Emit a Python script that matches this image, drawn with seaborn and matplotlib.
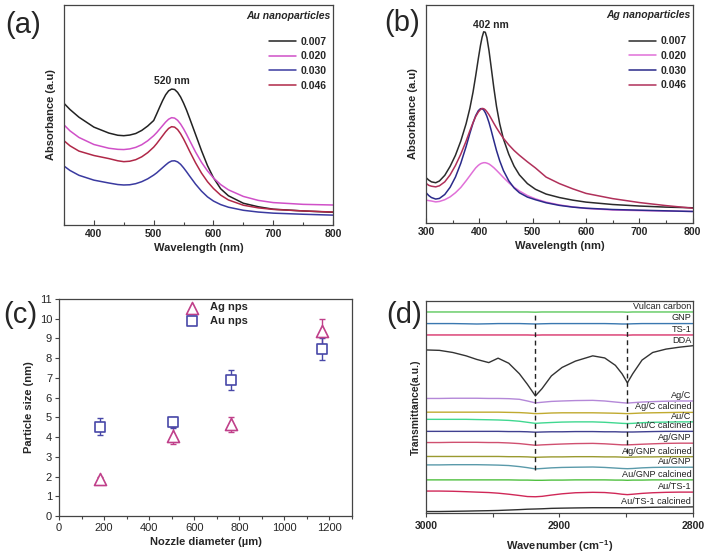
import seaborn as sns
import matplotlib.pyplot as plt
from matplotlib.ticker import MultipleLocator

sns.set_style('ticks')
plt.rcParams['font.family'] = ['Liberation Sans', 'DejaVu Sans']
plt.rcParams['mathtext.default'] = 'regular'

# ---------------- (a) Au nanoparticles, UV-vis ----------------
wl_au = [350, 360, 375, 400, 425, 440, 450, 460, 470, 480, 490, 500, 505, 510, 515, 520, 525,
         530, 535, 540, 545, 550, 555, 560, 570, 580, 590, 600, 612, 625, 650, 675, 700, 750, 800]
au_007 = [55.3, 52.5, 49.0, 44.5, 41.8, 40.8, 40.6, 40.9, 41.6, 43.0, 45.0, 47.5, 50.5, 53.6,
          56.6, 59.2, 61.0, 61.8, 61.6, 60.3, 58.2, 55.4, 52.2, 48.6, 41.2, 33.8, 27.0, 21.5,
          16.5, 13.3, 9.9, 8.3, 7.2, 6.4, 5.8]
au_020 = [45.5, 42.8, 39.8, 36.6, 34.9, 34.4, 34.3, 34.6, 35.3, 36.5, 38.3, 40.6, 42.0, 43.6,
          45.2, 46.8, 48.1, 48.8, 48.6, 47.6, 45.9, 43.7, 41.2, 38.5, 33.2, 28.5, 24.6, 21.4,
          18.4, 16.0, 13.0, 11.2, 10.2, 9.4, 9.1]
au_030 = [26.8, 24.8, 22.6, 20.4, 19.1, 18.4, 18.2, 18.3, 18.8, 19.7, 21.0, 22.7, 23.7, 24.9,
          26.1, 27.3, 28.4, 29.1, 29.2, 28.7, 27.6, 26.0, 24.2, 22.3, 18.6, 15.4, 12.8, 10.9,
          9.3, 8.1, 6.7, 5.9, 5.4, 4.9, 4.5]
au_046 = [38.3, 36.0, 33.6, 31.6, 30.2, 29.2, 28.8, 29.0, 29.7, 31.0, 32.9, 35.4, 37.0, 38.8,
          40.6, 42.4, 43.9, 44.7, 44.5, 43.4, 41.5, 39.1, 36.4, 33.6, 28.3, 23.6, 19.7, 16.6,
          13.6, 11.4, 9.0, 7.8, 7.1, 6.4, 5.9]

# ---------------- (b) Ag nanoparticles, UV-vis ----------------
wl_ag = [300, 305, 310, 318, 325, 335, 345, 355, 365, 375, 382, 388, 393, 398, 402, 405, 408,
         411, 414, 418, 422, 427, 432, 438, 445, 455, 465, 475, 490, 505, 525, 550, 575, 600,
         650, 700, 750, 800]
ag_007 = [20.7, 19.6, 18.8, 18.4, 19.2, 21.8, 25.9, 31.0, 37.5, 45.5, 52.5, 60.0, 67.5, 75.5,
          81.5, 85.2, 87.7, 87.5, 85.0, 79.0, 71.5, 62.0, 53.5, 45.5, 38.5, 31.5, 26.0, 22.0,
          18.0, 15.4, 13.2, 11.6, 10.4, 9.5, 8.4, 7.7, 7.2, 6.9]
ag_020 = [10.4, 10.2, 10.0, 9.6, 9.8, 10.6, 11.9, 13.8, 16.2, 19.3, 21.6, 23.6, 25.2, 26.4,
          27.1, 27.4, 27.6, 27.6, 27.4, 27.0, 26.3, 25.3, 24.1, 22.6, 20.8, 18.4, 16.3, 14.6,
          12.5, 11.0, 9.5, 8.2, 7.3, 6.6, 5.9, 5.6, 5.4, 5.2]
ag_030 = [13.8, 12.5, 11.6, 10.9, 11.2, 13.0, 16.3, 21.0, 27.3, 35.0, 41.0, 45.8, 49.2, 51.5,
          52.4, 52.4, 51.8, 50.6, 48.9, 46.0, 42.5, 37.8, 33.2, 28.5, 24.0, 19.3, 16.0, 13.8,
          11.8, 10.6, 9.2, 8.0, 7.2, 6.7, 6.1, 5.8, 5.5, 5.2]
ag_046 = [18.1, 17.2, 16.8, 16.5, 17.0, 18.8, 22.0, 26.3, 31.5, 37.5, 42.2, 46.0, 48.8, 50.9,
          52.0, 52.5, 52.4, 51.9, 51.0, 49.6, 47.9, 45.7, 43.6, 41.3, 38.8, 35.8, 33.2, 31.0,
          28.0, 25.2, 21.0, 18.0, 15.6, 13.5, 11.1, 9.3, 7.9, 6.7]

conc_labels = ['0.007', '0.020', '0.030', '0.046']

# ---------------- (c) particle size vs nozzle diameter ----------------
nozzle = [180, 505, 765, 1165]
ag_size = [1.86, 4.08, 4.64, 9.36]
ag_err = [0.1, 0.44, 0.4, 0.64]
au_size = [4.53, 4.76, 6.9, 8.46]
au_err = [0.43, 0.28, 0.52, 0.57]

# ---------------- (d) FTIR ----------------
wn = [3000, 2990, 2980, 2970, 2962, 2953, 2946, 2938, 2930, 2924, 2918, 2913, 2906,
      2898, 2888, 2875, 2866, 2858, 2853, 2849, 2845, 2838, 2830, 2820, 2810, 2800]
bands = [2918, 2849]
ftir_names = ['Vulcan carbon', 'GNP', 'TS-1', 'DDA', 'Ag/C', 'Ag/C calcined', 'Au/C',
              'Au/C calcined', 'Ag/GNP', 'Ag/GNP calcined', 'Au/GNP', 'Au/GNP calcined',
              'Au/TS-1', 'Au/TS-1 calcined']
ftir = [
    [94.8, 94.8, 94.8, 94.8, 94.8, 94.8, 94.8, 94.8, 94.8, 94.8, 94.7, 94.8, 94.8,
     94.8, 94.8, 94.8, 94.8, 94.8, 94.8, 94.7, 94.8, 94.8, 94.8, 94.8, 94.8, 94.8],
    [89.3, 89.3, 89.3, 89.2, 89.1, 89.2, 89.3, 89.3, 89.3, 89.2, 89.1, 89.2, 89.3,
     89.3, 89.3, 89.3, 89.3, 89.2, 89.1, 89.1, 89.2, 89.3, 89.3, 89.3, 89.3, 89.3],
    [83.9, 83.9, 83.9, 83.9, 83.9, 83.9, 83.9, 83.9, 83.9, 83.9, 83.8, 83.9, 83.9,
     83.9, 83.9, 83.9, 83.9, 83.9, 83.9, 83.8, 83.9, 83.9, 83.9, 83.9, 83.9, 83.9],
    [76.8, 76.6, 75.6, 74.0, 72.3, 70.8, 72.9, 70.5, 65.5, 60.5, 55.0, 58.5, 64.5,
     68.5, 71.5, 74.0, 73.0, 69.5, 65.5, 61.2, 65.5, 72.0, 75.6, 77.2, 78.1, 78.8],
    [53.8, 53.8, 53.9, 53.9, 53.9, 53.8, 53.8, 53.7, 53.4, 52.6, 51.7, 52.0, 52.4,
     52.6, 52.8, 52.9, 52.6, 52.1, 51.8, 51.6, 51.8, 52.1, 52.3, 52.5, 52.6, 52.6],
    [47.3, 47.3, 47.3, 47.3, 47.3, 47.3, 47.3, 47.2, 47.1, 46.9, 46.6, 46.7, 46.9,
     47.0, 47.0, 47.0, 46.9, 46.8, 46.7, 46.6, 46.7, 46.9, 47.0, 47.1, 47.2, 47.2],
    [43.9, 43.9, 43.9, 43.9, 43.8, 43.7, 43.6, 43.4, 43.0, 42.5, 42.0, 42.2, 42.4,
     42.6, 42.7, 42.7, 42.5, 42.2, 42.0, 41.9, 42.0, 42.3, 42.5, 42.6, 42.7, 42.7],
    [38.2, 38.2, 38.2, 38.2, 38.2, 38.2, 38.2, 38.1, 38.1, 38.0, 37.8, 37.9, 38.0,
     38.0, 38.1, 38.1, 38.0, 38.0, 37.9, 37.9, 37.9, 38.0, 38.1, 38.2, 38.2, 38.2],
    [32.9, 32.9, 33.0, 33.0, 33.0, 32.9, 32.9, 32.7, 32.4, 32.0, 31.6, 31.8, 32.0,
     32.2, 32.4, 32.5, 32.3, 32.0, 31.8, 31.8, 31.9, 32.1, 32.3, 32.5, 32.6, 32.6],
    [26.3, 26.3, 26.3, 26.3, 26.3, 26.3, 26.3, 26.2, 26.2, 26.1, 25.9, 26.0, 26.1,
     26.1, 26.2, 26.2, 26.1, 26.1, 26.0, 25.9, 26.0, 26.1, 26.1, 26.2, 26.2, 26.2],
    [22.3, 22.3, 22.4, 22.4, 22.4, 22.3, 22.2, 22.0, 21.5, 21.0, 20.4, 20.6, 20.9,
     21.1, 21.2, 21.3, 21.1, 20.8, 20.6, 20.5, 20.6, 20.9, 21.1, 21.2, 21.2, 21.2],
    [15.2, 15.2, 15.2, 15.2, 15.2, 15.2, 15.2, 15.2, 15.1, 15.1, 15.0, 15.0, 15.1,
     15.1, 15.2, 15.2, 15.2, 15.1, 15.1, 15.0, 15.1, 15.1, 15.2, 15.2, 15.2, 15.2],
    [9.9, 9.9, 9.8, 9.6, 9.4, 9.2, 8.9, 8.4, 7.8, 7.3, 7.2, 7.4, 8.0,
     8.6, 9.1, 9.3, 9.2, 8.8, 8.4, 8.2, 8.4, 8.8, 9.1, 9.3, 9.4, 9.4],
    [0.2, 0.2, 0.3, 0.4, 0.5, 0.6, 0.7, 0.9, 1.1, 1.3, 1.4, 1.5, 1.7,
     1.8, 1.9, 2.0, 2.0, 2.0, 2.0, 2.0, 2.0, 2.1, 2.2, 2.3, 2.3, 2.4],
]
ftir_colors = ['#5cc85c', '#3a78b0', '#d8336a', '#333333', '#b488d8', '#c0aa30', '#40d890',
               '#404090', '#d05070', '#9a9a30', '#5a9aaa', '#50c040', '#d02858', '#303030']

SPINE = '#444444'


def style_spines(ax):
    for s in ax.spines.values():
        s.set_visible(True)
        s.set_color(SPINE)
        s.set_linewidth(0.9)


def uv_panel(ax, x, series, colors, title, peak_label, peak_offset, xlim):
    for vals, c, lab in zip(series, colors, conc_labels):
        sns.lineplot(x=x, y=vals, color=c, lw=1.1, label=lab, ax=ax)
    ax.set_xlim(*xlim)
    ax.set_ylim(0, 100)
    ax.set_yticks([])
    ax.xaxis.set_major_locator(MultipleLocator(100))
    ax.xaxis.set_minor_locator(MultipleLocator(50))
    ax.tick_params(axis='x', which='major', direction='in', length=3.5, width=0.8,
                   labelsize=7.5, color=SPINE, pad=3)
    ax.tick_params(axis='x', which='minor', direction='in', length=2, width=0.8, color=SPINE)
    plt.setp(ax.get_xticklabels(), fontweight='bold')
    ax.set_xlabel('Wavelength (nm)', fontsize=8, fontweight='bold', labelpad=3)
    ax.set_ylabel('Absorbance (a.u)', fontsize=8, fontweight='bold', labelpad=6)
    style_spines(ax)
    ax.legend(loc='upper right', bbox_to_anchor=(1.0, 0.885), frameon=False,
              prop=dict(weight='bold', size=7.5), handlelength=2.6,
              handletextpad=0.4, labelspacing=0.45, borderaxespad=0.2)
    ax.text(0.99, 0.975, title, transform=ax.transAxes, ha='right', va='top',
            fontsize=7.5, fontweight='bold', fontstyle='italic')
    top = series[0]
    i = top.index(max(top))
    ax.annotate(peak_label, xy=(x[i], top[i]), xytext=peak_offset, textcoords='offset points',
                ha='center', va='bottom', fontsize=7.5, fontweight='bold')


fig = plt.figure(figsize=(7.09, 5.57), dpi=100)
ax_a = fig.add_axes([0.0903, 0.596, 0.3794, 0.395])
ax_b = fig.add_axes([0.601, 0.600, 0.376, 0.391])
ax_c = fig.add_axes([0.0832, 0.0736, 0.4133, 0.3896])
ax_d = fig.add_axes([0.601, 0.079, 0.376, 0.3806])

uv_panel(ax_a, wl_au, [au_007, au_020, au_030, au_046],
         ['#222222', '#d050c8', '#3a3aa0', '#b02848'],
         'Au nanoparticles', '520 nm', (0, 2.5), (350, 800))
uv_panel(ax_b, wl_ag, [ag_007, ag_020, ag_030, ag_046],
         ['#2b2b2b', '#e070d8', '#2a2a8a', '#b0305a'],
         'Ag nanoparticles', '402 nm', (5, 1.5), (300, 800))

# ---- (c) ----
ag_col, au_col = '#c0408a', '#4848a8'
ax_c.errorbar(nozzle, ag_size, yerr=ag_err, fmt='none', ecolor=ag_col, elinewidth=1,
              capsize=2.5, capthick=1, zorder=1)
ax_c.errorbar(nozzle, au_size, yerr=au_err, fmt='none', ecolor=au_col, elinewidth=1,
              capsize=2.5, capthick=1, zorder=1)
sns.scatterplot(x=nozzle, y=ag_size, marker='^', s=75, facecolor='white', edgecolor=ag_col,
                linewidth=1.2, label='Ag nps', ax=ax_c, zorder=3)
sns.scatterplot(x=nozzle, y=au_size, marker='s', s=55, facecolor='white', edgecolor=au_col,
                linewidth=1.2, label='Au nps', ax=ax_c, zorder=3)
ax_c.set_xlim(0, 1300)
ax_c.set_ylim(0, 11)
ax_c.xaxis.set_major_locator(MultipleLocator(200))
ax_c.xaxis.set_minor_locator(MultipleLocator(100))
ax_c.yaxis.set_major_locator(MultipleLocator(1))
ax_c.tick_params(which='major', direction='out', length=3, width=0.8, labelsize=8,
                 color=SPINE, pad=2)
ax_c.tick_params(which='minor', direction='out', length=2, width=0.8, color=SPINE)
ax_c.set_xlabel('Nozzle diameter (µm)', fontsize=8, fontweight='bold', labelpad=3)
ax_c.set_ylabel('Particle size (nm)', fontsize=8, fontweight='bold', labelpad=4)
style_spines(ax_c)
ax_c.legend(loc='upper center', bbox_to_anchor=(0.53, 1.03), frameon=False,
            prop=dict(weight='bold', size=8), handletextpad=0.6, labelspacing=0.3)

# ---- (d) ----
for vals, c in zip(ftir, ftir_colors):
    sns.lineplot(x=wn, y=vals, color=c, lw=1.0, ax=ax_d)
for vals, name in zip(ftir, ftir_names):
    ax_d.annotate(name, xy=(wn[-1], vals[-1]), xytext=(-1, 0.8), textcoords='offset points',
                  ha='right', va='bottom', fontsize=6.6, color='#222222')
ax_d.vlines(bands, [20, 28], ftir[0][0], colors='#222222', linestyles=(0, (3.5, 2.5)), lw=1)
ax_d.set_xlim(3000, 2800)
ax_d.set_ylim(-0.5, 100)
ax_d.set_yticks([])
ax_d.xaxis.set_major_locator(MultipleLocator(100))
ax_d.xaxis.set_minor_locator(MultipleLocator(50))
ax_d.tick_params(axis='x', which='major', direction='out', length=3, width=0.8,
                 labelsize=7.5, color=SPINE, pad=3)
ax_d.tick_params(axis='x', which='minor', direction='out', length=3, width=0.8, color=SPINE)
plt.setp(ax_d.get_xticklabels(), fontweight='bold')
ax_d.set_xlabel('Wavenumber (cm$^{-1}$)', fontsize=8, fontweight='bold', labelpad=5)
ax_d.set_ylabel('Transmittance(a.u.)', fontsize=7.5, fontweight='bold', labelpad=4)
style_spines(ax_d)

# panel letters
fig.text(0.032, 0.956, '(a)', fontsize=21, ha='center', va='center')
fig.text(0.567, 0.958, '(b)', fontsize=21, ha='center', va='center')
fig.text(0.029, 0.435, '(c)', fontsize=21, ha='center', va='center')
fig.text(0.570, 0.435, '(d)', fontsize=21, ha='center', va='center')

fig.savefig('out.png', dpi=100)
